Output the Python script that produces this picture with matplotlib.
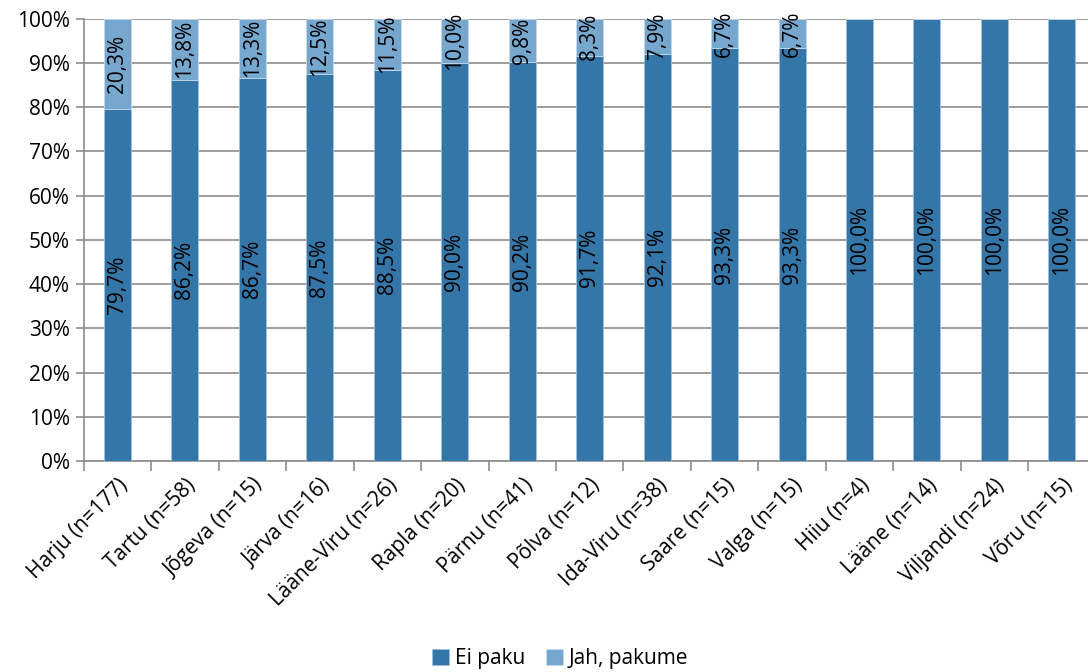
import numpy as np
import matplotlib
matplotlib.use("Agg")
import matplotlib.pyplot as plt

regions = ["Harju (n=177)", "Tartu (n=58)", "Jõgeva (n=15)", "Järva (n=16)",
           "Lääne-Viru (n=26)", "Rapla (n=20)", "Pärnu (n=41)", "Põlva (n=12)",
           "Ida-Viru (n=38)", "Saare (n=15)", "Valga (n=15)", "Hiiu (n=4)",
           "Lääne (n=14)", "Viljandi (n=24)", "Võru (n=15)"]
ei_paku = [79.7, 86.2, 86.7, 87.5, 88.5, 90.0, 90.2, 91.7, 92.1, 93.3, 93.3,
           100.0, 100.0, 100.0, 100.0]
jah_pakume = [20.3, 13.8, 13.3, 12.5, 11.5, 10.0, 9.8, 8.3, 7.9, 6.7, 6.7,
              0, 0, 0, 0]

plt.rcParams["font.family"] = ["Open Sans", "DejaVu Sans"]

dark = "#3476A7"
light = "#76A7CF"

fig = plt.figure(figsize=(10.88, 6.72), dpi=100)
ax = fig.add_axes([0.077, 0.314, 0.93, 0.658])

x = np.arange(len(regions))
w = 0.4
b1 = ax.bar(x, ei_paku, w, color=dark, edgecolor="#9fc0dc", linewidth=0.6,
            label="Ei paku", zorder=3)
b2 = ax.bar(x, jah_pakume, w, bottom=ei_paku, color=light, edgecolor="#c5d9ea",
            linewidth=0.6, label="Jah, pakume", zorder=3)

def fmt(v):
    return f"{v:.1f}%".replace(".", ",")

for i in x:
    ax.text(i, ei_paku[i] / 2, fmt(ei_paku[i]), rotation=90, ha="center",
            va="center", fontsize=15, zorder=4)
    if jah_pakume[i] > 0:
        ax.text(i, ei_paku[i] + jah_pakume[i] / 2, fmt(jah_pakume[i]),
                rotation=90, ha="center", va="center", fontsize=15, zorder=4)

ax.set_xlim(-0.5, len(regions) - 0.5)
ax.set_ylim(0, 100)
ax.set_yticks(np.arange(0, 101, 10))
ax.set_yticklabels([f"{v}%" for v in range(0, 101, 10)], fontsize=15)
ax.yaxis.grid(True, color="#8c8c8c", linewidth=1.2, zorder=0)
ax.tick_params(axis="y", length=6, color="#8c8c8c", width=1.2, pad=4)

ax.set_xticks(x)
ax.set_xticklabels(regions, rotation=45, ha="right", rotation_mode="anchor",
                   fontsize=15)
ax.tick_params(axis="x", length=0, pad=10)
ax.set_xticks(np.arange(-0.5, len(regions), 1), minor=True)
ax.tick_params(axis="x", which="minor", length=7, color="#8c8c8c", width=1.2)

for s in ["top", "right"]:
    ax.spines[s].set_visible(False)
for s in ["left", "bottom"]:
    ax.spines[s].set_color("#8c8c8c")
    ax.spines[s].set_linewidth(1.2)

fig.legend(handles=[b1, b2], loc="center", bbox_to_anchor=(0.515, 0.02),
           ncol=2, frameon=False, fontsize=15, handlelength=0.8,
           handleheight=0.8, columnspacing=1.0, handletextpad=0.3)

fig.savefig("out.png", dpi=100)
